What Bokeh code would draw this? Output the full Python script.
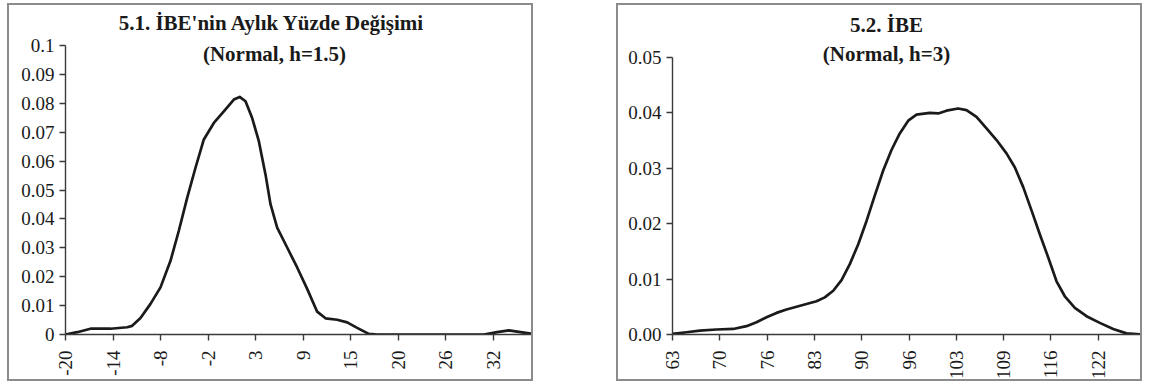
import math
from bokeh.plotting import figure
from bokeh.models import Range1d, FixedTicker, Label, Spacer
from bokeh.layouts import row, column
from bokeh.embed import file_html
from bokeh.resources import INLINE

# ---------------- data ----------------
left_title = "5.1. İBE'nin Aylık  Yüzde Değişimi"
left_subtitle = "(Normal, h=1.5)"
left_x = [-19.6, -18.2, -16.6, -14.2, -12.2, -11.6, -10.6, -9.4, -8.2, -7.0,
          -6.0, -5.0, -4.0, -3.0, -1.8, -0.6, 0.6, 1.3, 2.0, 2.8,
          3.6, 4.4, 5.0, 5.8, 7.0, 8.2, 9.4, 10.6, 11.6, 13.0,
          14.2, 15.4, 16.8, 17.8, 30.6, 32.2, 33.6, 35.0, 36.9]
left_y = [0.0, 0.0008, 0.002, 0.002, 0.0025, 0.003, 0.0057, 0.0106, 0.0163, 0.0255,
          0.0359, 0.0473, 0.0577, 0.0675, 0.0732, 0.0772, 0.0813, 0.0822, 0.0807, 0.0749,
          0.0669, 0.0554, 0.0451, 0.037, 0.0301, 0.0232, 0.0158, 0.0079, 0.0056, 0.0051,
          0.0042, 0.0023, 0.0002, 0.0, 0.0, 0.0008, 0.0014, 0.0008, 0.0]
left_x_ticks = [-19.6, -13.9, -8.2, -2.5, 3.2, 8.9, 14.6, 20.3, 26.0, 31.7]
left_x_labels = ["-20", "-14", "-8", "-2", "3", "9", "15", "20", "26", "32"]
left_y_ticks = [0.0, 0.01, 0.02, 0.03, 0.04, 0.05, 0.06, 0.07, 0.08, 0.09, 0.1]
left_y_labels = ["0", "0.01", "0.02", "0.03", "0.04", "0.05", "0.06", "0.07", "0.08", "0.09", "0.1"]

right_title = "5.2. İBE"
right_subtitle = "(Normal, h=3)"
right_x = [63.3, 65.24, 67.09, 69.40, 71.72, 73.56, 74.95, 76.34, 77.72, 79.11,
           80.50, 81.88, 83.27, 84.42, 85.59, 86.74, 87.89, 89.06, 90.21, 91.36,
           92.52, 93.67, 94.82, 95.99, 97.14, 98.98, 100.15, 101.30, 102.92, 104.07,
           105.46, 106.85, 108.24, 109.62, 110.77, 111.94, 113.09, 114.24, 115.41, 116.56,
           117.71, 119.10, 120.72, 122.56, 124.42, 126.26, 128.7]
right_y = [0.0001, 0.0004, 0.0007, 0.0009, 0.001, 0.0015, 0.0022, 0.0031, 0.0039, 0.0045,
           0.005, 0.0055, 0.006, 0.0067, 0.0079, 0.0098, 0.0127, 0.0163, 0.0205, 0.0251,
           0.0296, 0.0333, 0.0363, 0.0386, 0.0397, 0.04, 0.0399, 0.0404, 0.0408, 0.0405,
           0.0393, 0.0372, 0.0351, 0.0327, 0.0302, 0.0266, 0.0224, 0.0181, 0.0139, 0.0096,
           0.0069, 0.0048, 0.0033, 0.0021, 0.001, 0.0002, 0.0]
right_x_ticks = [63.3, 69.86, 76.42, 82.98, 89.54, 96.1, 102.66, 109.22, 115.78, 122.34]
right_x_labels = ["63", "70", "76", "83", "90", "96", "103", "109", "116", "122"]
right_y_ticks = [0.0, 0.01, 0.02, 0.03, 0.04, 0.05]
right_y_labels = ["0.00", "0.01", "0.02", "0.03", "0.04", "0.05"]

FONT = "Liberation Serif"
INK = "#1a1a1a"

# layout (page px): boxes 7..537 and 620..1150, x axis at 334, frame top at 8
AXIS_Y = 334
FRAME_TOP = 8
TITLE_SHIFT = 7  # label baseline correction


def panel(width, height, mleft, xs, ys, xr, yr, xticks, xlabels, yticks, ylabels,
          ybound, title, subtitle, tx, ty1, ty2):
    p = figure(width=width, height=height,
               x_range=Range1d(*xr), y_range=Range1d(*yr),
               output_backend="svg", toolbar_location=None,
               min_border_left=mleft, min_border_right=0,
               min_border_top=3, min_border_bottom=49,
               styles={"border": "2px solid #8c8c8c"})
    p.background_fill_color = "white"
    p.border_fill_color = "white"
    p.outline_line_color = None
    p.grid.visible = False

    for ax in (p.xaxis[0], p.yaxis[0]):
        ax.axis_line_color = "#3a3a3a"
        ax.axis_line_width = 1.4
        ax.major_tick_line_color = "#3a3a3a"
        ax.major_tick_line_width = 1.4
        ax.major_tick_out = 6
        ax.major_tick_in = 0
        ax.minor_tick_line_color = None
        ax.major_label_text_font = FONT
        ax.major_label_text_font_size = "19px"
        ax.major_label_text_color = INK

    xa = p.xaxis[0]
    xa.ticker = FixedTicker(ticks=xticks)
    xa.major_label_overrides = {t: l for t, l in zip(xticks, xlabels)}
    xa.major_label_orientation = math.pi / 2
    xa.major_label_standoff = 10

    ya = p.yaxis[0]
    ya.ticker = FixedTicker(ticks=yticks)
    ya.major_label_overrides = {t: l for t, l in zip(yticks, ylabels)}
    ya.bounds = ybound
    ya.major_label_standoff = 5

    p.line(xs, ys, line_color=INK, line_width=2.7, line_join="round")

    for txt, ty in ((title, ty1), (subtitle, ty2)):
        p.add_layout(Label(x=tx, y=ty, text=txt, text_font=FONT,
                           text_font_style="bold", text_font_size="21px",
                           text_align="center", text_baseline="alphabetic",
                           text_color=INK))
    return p


# left panel: frame 65..535, 0 at 334, 0.1 at 45
lx0 = -19.6
lx1 = lx0 + (535 - 65) / 47.5 * 5.7
ly_top = 0.1 * (AXIS_Y - FRAME_TOP) / (AXIS_Y - 45)
l_tx = lx0 + (274 - 65) / (535 - 65) * (lx1 - lx0)
l_ty1 = 0.1 * (AXIS_Y - (29 - TITLE_SHIFT)) / (AXIS_Y - 45)
l_ty2 = 0.1 * (AXIS_Y - (60 - TITLE_SHIFT)) / (AXIS_Y - 45)
p1 = panel(526, 378, 56, left_x, left_y, (lx0, lx1), (0, ly_top),
           left_x_ticks, left_x_labels, left_y_ticks, left_y_labels,
           (0, 0.1), left_title, left_subtitle, l_tx, l_ty1, l_ty2)

# right panel: frame 676..1148, 0 at 334, 0.05 at 57
rx0, rx1 = 63.3, 128.76
ry_top = 0.05 * (AXIS_Y - FRAME_TOP) / (AXIS_Y - 57)
r_tx = rx0 + (890 - 676) / (1148 - 676) * (rx1 - rx0)
r_ty1 = 0.05 * (AXIS_Y - (31 - TITLE_SHIFT)) / (AXIS_Y - 57)
r_ty2 = 0.05 * (AXIS_Y - (60 - TITLE_SHIFT)) / (AXIS_Y - 57)
p2 = panel(526, 378, 54, right_x, right_y, (rx0, rx1), (0, ry_top),
           right_x_ticks, right_x_labels, right_y_ticks, right_y_labels,
           (0, 0.05), right_title, right_subtitle, r_tx, r_ty1, r_ty2)

layout = column(Spacer(height=3),
                row(Spacer(width=7), p1, Spacer(width=83), p2))
open("out.html", "w").write(file_html(layout, INLINE))
